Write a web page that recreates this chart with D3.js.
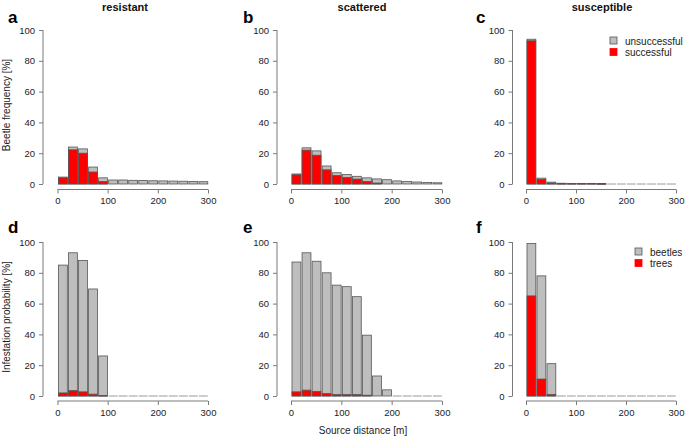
<!DOCTYPE html>
<html><head><meta charset="utf-8">
<script src="https://cdnjs.cloudflare.com/ajax/libs/d3/7.8.5/d3.min.js"></script>
<style>body{margin:0;background:#fff}svg{display:block}text{font-family:"Liberation Sans",Arial,sans-serif}</style>
</head><body>
<script>
// Source distance bins (m), left edges
const binStarts = [0,20,40,60,80,100,120,140,160,180,200,220,240,260,280];
const xTicks = [0,100,200,300];
const yTicks = [0,20,40,60,80,100];

// Top row: beetle frequency [%] (total = unsuccessful + successful, successful)
const resistantTotal = [4.5,24,22.8,11,4,2.6,2.6,2.4,2.3,2.1,2,1.9,1.8,1.6,1.5];
const resistantSucc  = [4,22.2,20,7.8,1.6,0,0,0,0,0,0,0,0,0,0];
const scatteredTotal = [6.5,23.5,21.5,11.7,7.3,6.2,5,4,3.3,2.8,2,1.6,1.3,1,0.8];
const scatteredSucc  = [6,22,18.7,9.2,5.5,4.2,3.2,1.6,0.6,0,0,0,0,0,0];
const susceptTotal   = [94,3.8,1.2,0.5,0.4,0.4,0.4,0.3,0,0,0,0,0,0,0];
const susceptSucc    = [93,3,0.6,0.3,0.3,0.3,0.3,0.2,0,0,0,0,0,0,0];

// Bottom row: infestation probability [%] (beetles, trees)
const resistantBeetles = [85,93,88,69.5,26,0,0,0,0,0,0,0,0,0,0];
const resistantTrees   = [2,3.5,2.7,1.2,0.3,0,0,0,0,0,0,0,0,0,0];
const scatteredBeetles = [87,93,87.5,80,72,71,64.5,39.5,13,4,0,0,0,0,0];
const scatteredTrees   = [2.7,3.8,3,1.6,0.9,0.9,0.9,0.5,0,0,0,0,0,0,0];
const susceptBeetles   = [99,78,21,0,0,0,0,0,0,0,0,0,0,0,0];
const susceptTrees     = [65,11,1,0,0,0,0,0,0,0,0,0,0,0,0];

const titles = ["resistant","scattered","susceptible"];
const letters = ["a","b","c","d","e","f"];

const W=685,H=437;
const svg=d3.select("body").append("svg").attr("width",W).attr("height",H);

const colX=[{ax:43,x0:57.5,x1:208},{ax:277,x0:291,x1:442},{ax:512.5,x0:526,x1:676}];
const rowY=[{y0:184,y1:30,axy:189.5,letterY:23},{y0:396,y1:242,axy:401,letterY:233}];
const GREY="#bebebe",RED="#ff0000",STROKE="#555",AXIS="#7a7a7a",TXT="#222";

const panels=[
 {r:0,c:0,tot:resistantTotal,low:resistantSucc},
 {r:0,c:1,tot:scatteredTotal,low:scatteredSucc},
 {r:0,c:2,tot:susceptTotal,low:susceptSucc},
 {r:1,c:0,tot:resistantBeetles,low:resistantTrees},
 {r:1,c:1,tot:scatteredBeetles,low:scatteredTrees},
 {r:1,c:2,tot:susceptBeetles,low:susceptTrees}];

panels.forEach((p,i)=>{
  const C=colX[p.c],R=rowY[p.r];
  const x=d3.scaleLinear().domain([0,300]).range([C.x0,C.x1]);
  const y=d3.scaleLinear().domain([0,100]).range([R.y0,R.y1]);
  const g=svg.append("g");
  const bw=x(20)-x(0)-1.2;
  binStarts.forEach((b,j)=>{
    const t=p.tot[j],l=p.low[j];
    const bx=x(b)+1;
    if(t<=0){
      g.append("line").attr("x1",bx).attr("x2",bx+bw).attr("y1",y(0)).attr("y2",y(0))
       .attr("stroke","#9a9a9a").attr("stroke-width",1);
      return;
    }
    g.append("rect").attr("x",bx).attr("y",y(t)).attr("width",bw).attr("height",Math.max(0.6,y(0)-y(t)))
     .attr("fill",GREY).attr("stroke",STROKE).attr("stroke-width",0.8);
    if(l>0){
      g.append("rect").attr("x",bx).attr("y",y(l)).attr("width",bw).attr("height",Math.max(0.6,y(0)-y(l)))
       .attr("fill",RED).attr("stroke",STROKE).attr("stroke-width",0.8);
    }
  });
  // y axis
  const ya=svg.append("g").attr("transform",`translate(${C.ax},0)`)
    .call(d3.axisLeft(y).tickValues(yTicks).tickSize(4).tickPadding(4).tickSizeOuter(0));
  ya.select(".domain").attr("stroke",AXIS).attr("d",`M0,${y(0)}V${y(100)}`);
  ya.selectAll(".tick line").attr("stroke",AXIS);
  ya.selectAll("text").attr("font-size",9.5).attr("fill",TXT).attr("font-family","Liberation Sans, Arial, sans-serif");
  // x axis
  const xa=svg.append("g").attr("transform",`translate(0,${R.axy})`)
    .call(d3.axisBottom(x).tickValues(xTicks).tickSize(4).tickPadding(4).tickSizeOuter(0));
  xa.select(".domain").attr("stroke",AXIS).attr("d",`M${x(0)},0H${x(300)}`);
  xa.selectAll(".tick line").attr("stroke",AXIS);
  xa.selectAll("text").attr("font-size",9.5).attr("fill",TXT).attr("font-family","Liberation Sans, Arial, sans-serif");
  // letter
  svg.append("text").attr("x",C.ax-35).attr("y",R.letterY).attr("font-size",17).attr("font-weight","bold")
    .attr("fill","#000").text(letters[i]);
});
// adjust letter x for columns
svg.selectAll("text").filter(function(){return ["a","d"].includes(this.textContent)&&+this.getAttribute("font-size")===17}).attr("x",8);
svg.selectAll("text").filter(function(){return ["b","e"].includes(this.textContent)&&+this.getAttribute("font-size")===17}).attr("x",243);
svg.selectAll("text").filter(function(){return ["c","f"].includes(this.textContent)&&+this.getAttribute("font-size")===17}).attr("x",476);

// titles
[125,362,602].forEach((cx,k)=>{
  svg.append("text").attr("x",cx).attr("y",11).attr("text-anchor","middle").attr("font-size",11)
   .attr("font-weight","bold").attr("fill","#111").text(titles[k]);
});
// y labels
svg.append("text").attr("transform","translate(10,105) rotate(-90)").attr("text-anchor","middle")
  .attr("font-size",10).attr("fill",TXT).text("Beetle frequency [%]");
svg.append("text").attr("transform","translate(10,317) rotate(-90)").attr("text-anchor","middle")
  .attr("font-size",10).attr("fill",TXT).text("Infestation probability [%]");
svg.append("text").attr("x",363).attr("y",434).attr("text-anchor","middle")
  .attr("font-size",10).attr("fill",TXT).text("Source distance [m]");

// legends
function legend(x0,yA,labels){
  labels.forEach((lab,k)=>{
    const yy=yA+k*11.5;
    svg.append("rect").attr("x",x0).attr("y",yy-4).attr("width",7).attr("height",7)
      .attr("fill",k===0?GREY:RED).attr("stroke",k===0?STROKE:RED).attr("stroke-width",0.8);
    svg.append("text").attr("x",x0+15).attr("y",yy+3.5).attr("font-size",10).attr("fill",TXT).text(lab);
  });
}
legend(610,41,["unsuccessful","successful"]);
legend(635,252,["beetles","trees"]);
</script>
</body></html>
